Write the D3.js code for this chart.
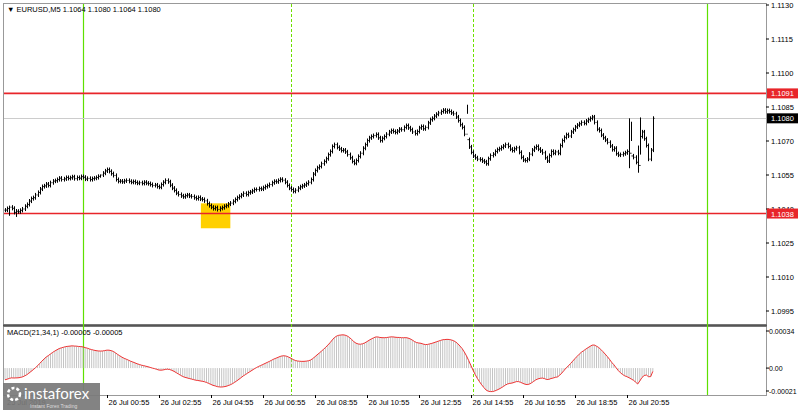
<!DOCTYPE html>
<html><head><meta charset="utf-8">
<script src="https://cdn.jsdelivr.net/npm/d3@7/dist/d3.min.js"></script>
<style>body{margin:0;background:#fff}svg{display:block;font-family:"Liberation Sans",Arial,sans-serif}</style>
</head><body><svg id="c" width="800" height="411"></svg>
<script>
// closes, pips above 1.1000, one per M5 bar starting 25 Jul 21:00
const closes = [
39.5,40.2,40.8,40.3,38.5,39.0,38.8,39.4,40.0,41.2,42.0,43.5,44.6,45.0,46.2,47.3,48.8,49.9,50.2,51.0,50.4,51.6,52.3,52.5,53.0,
53.6,53.0,53.3,53.9,53.5,53.8,54.2,53.4,53.9,53.6,54.3,54.0,53.2,53.5,53.0,53.4,53.6,53.9,54.4,55.0,55.8,56.8,57.4,56.6,55.6,
54.8,53.0,52.2,52.3,52.0,52.4,52.6,52.2,51.8,52.1,51.7,51.4,51.6,51.3,51.8,51.4,51.2,50.8,50.4,50.6,49.9,49.6,50.8,51.8,52.6,
52.0,50.5,49.2,48.2,47.0,46.4,45.8,45.4,45.9,46.2,45.7,45.5,45.0,44.6,45.1,44.4,44.2,43.6,42.4,41.5,40.8,40.2,40.6,39.8,40.3,
40.6,41.2,41.5,42.2,42.6,43.4,44.2,45.0,45.6,46.2,46.9,46.4,47.2,47.5,48.0,48.6,48.6,49.0,48.8,49.4,49.9,50.3,50.8,51.6,52.2,
52.0,52.6,53.1,52.7,51.8,50.4,49.2,48.6,47.8,48.3,49.2,49.8,50.2,50.6,51.2,51.8,53.0,55.4,57.0,58.2,58.8,60.0,61.0,62.2,64.0,
65.4,67.6,68.4,67.2,66.5,65.8,66.0,65.2,64.0,62.6,61.0,60.2,61.4,63.2,64.6,66.8,68.4,70.2,71.4,72.0,72.4,72.9,71.4,70.2,71.2,
72.0,73.0,74.0,74.6,74.2,73.8,74.4,75.2,75.0,76.0,76.8,75.8,75.0,74.0,73.3,74.2,75.8,76.4,75.4,76.0,78.0,79.4,80.0,81.0,81.8,
82.4,83.0,83.6,82.9,83.4,83.0,82.4,82.0,80.6,79.0,77.2,76.0,73.0,70.6,67.4,65.0,63.4,62.6,62.0,61.8,61.2,60.8,60.0,62.2,63.6,
64.2,65.4,66.2,66.6,67.2,67.8,68.4,67.6,66.4,65.8,66.6,67.0,65.0,62.8,61.6,61.4,62.0,64.2,66.0,67.0,67.6,66.4,65.6,64.8,62.6,
61.2,63.6,65.4,64.6,65.2,64.6,68.0,70.2,71.6,72.8,72.2,74.0,75.0,76.2,77.0,77.6,78.2,77.8,78.8,79.4,80.0,80.6,78.2,75.2,74.6,
72.6,71.4,70.4,69.4,67.8,66.2,66.8,64.4,63.8,64.0,64.4,64.8,65.4,64.6,63.4,62.8,60.6,59.2,72.0,74.0,71.0,68.0,62.0,66.0,80.0
];
// notable wicks: [bar index, high, low] in pips
const wicks = [[288,80.0,58.0],[289,78.5,70.0],[292,68.0,56.0],[293,80.4,64.0],[44,55.2,53.8],[2,41.5,37.0],[5,40.0,36.5],[213,86.0,82.0]];
const priceTicks = [1.1130,1.1115,1.1100,1.1085,1.1070,1.1055,1.1040,1.1025,1.1010,1.0995];
const levels = [1.1091,1.1038];
const lastPrice = 1.1080;
const timeTicks = ["00:55","02:55","04:55","06:55","08:55","10:55","12:55","14:55","16:55","18:55","20:55"];
const solidDays = ["2019-07-26T00:00","2019-07-27T00:00"];
const dashedTimes = ["2019-07-26T08:00","2019-07-26T15:00"];
const boxTime = ["2019-07-26T04:32","2019-07-26T05:40"], boxPrice = [1.10425,1.10315];
const macdTicks = [0.00034,0,-0.00021];

const svg = d3.select('#c');
const t0 = new Date("2019-07-25T21:00");
const bars = closes.map((c, i) => {
  const o = i ? closes[i-1] : c;
  const w = wicks.find(d => d[0] === i);
  return { t: new Date(+t0 + i*300000), o, c,
    h: w ? w[1] : Math.max(o, c) + 0.9, l: w ? w[2] : Math.min(o, c) - 0.9 };
});
const x = d3.scaleTime().domain([t0, new Date("2019-07-27T00:00")]).range([5, 707]);
const y = d3.scaleLinear().domain([1.0995, 1.1130]).range([311, 5]);
const pp = v => 1.1 + v/10000;
const ym = d3.scaleLinear().domain([-0.00021, 0.00034]).range([391, 331]);

// MACD(21,34,1) from closes
let e21 = 40.5, e34 = 41.6;
bars.forEach(b => { e21 += (b.c - e21)*2/22; e34 += (b.c - e34)*2/35; b.m = (e21 - e34)/10000; });

// frames
svg.append('rect').attr('x',3.5).attr('y',3.5).attr('width',763).attr('height',321).attr('fill','none').attr('stroke','#999');
svg.append('rect').attr('x',3.5).attr('y',326.5).attr('width',763).attr('height',69).attr('fill','none').attr('stroke','#999');
svg.append('line').attr('x1',3).attr('x2',767).attr('y1',325.5).attr('y2',325.5).attr('stroke','#555').attr('stroke-width',2);

// time markers
solidDays.forEach(d => svg.append('line').attr('x1',Math.round(x(new Date(d)))+.5).attr('x2',Math.round(x(new Date(d)))+.5)
  .attr('y1',4).attr('y2',395).attr('stroke','#5ee000').attr('stroke-width',1.2));
dashedTimes.forEach(d => svg.append('line').attr('x1',Math.round(x(new Date(d)))+.5).attr('x2',Math.round(x(new Date(d)))+.5)
  .attr('y1',4).attr('y2',395).attr('stroke','#6fe000').attr('stroke-dasharray','3,2'));

// highlight box
svg.append('rect').attr('x',x(new Date(boxTime[0]))).attr('width',x(new Date(boxTime[1]))-x(new Date(boxTime[0])))
  .attr('y',y(boxPrice[0])).attr('height',y(boxPrice[1])-y(boxPrice[0])).attr('fill','#ffd000');

// last price line
svg.append('line').attr('x1',4).attr('x2',766).attr('y1',Math.round(y(lastPrice))+.5).attr('y2',Math.round(y(lastPrice))+.5).attr('stroke','#ccc');

// levels
levels.forEach(v => svg.append('line').attr('x1',4).attr('x2',766).attr('y1',y(v)).attr('y2',y(v)).attr('stroke','#e8252a').attr('stroke-width',1.6));

// OHLC bars
const g = svg.append('g').attr('stroke','#000').attr('stroke-width',1).attr('fill','none');
bars.forEach(b => {
  const bx = Math.round(x(b.t)) + .5;
  g.append('line').attr('x1',bx).attr('x2',bx).attr('y1',y(pp(b.h))).attr('y2',y(pp(b.l)));
  g.append('line').attr('x1',bx-1).attr('x2',bx).attr('y1',y(pp(b.o))).attr('y2',y(pp(b.o)));
  g.append('line').attr('x1',bx).attr('x2',bx+1).attr('y1',y(pp(b.c))).attr('y2',y(pp(b.c)));
});

// MACD histogram + signal
const gm = svg.append('g').attr('stroke','#b5b5b5').attr('stroke-width',0.8);
bars.forEach(b => gm.append('line').attr('x1',x(b.t)).attr('x2',x(b.t)).attr('y1',ym(0)).attr('y2',ym(b.m)));
svg.append('path').datum(bars).attr('fill','none').attr('stroke','#e33').attr('stroke-width',1)
  .attr('d', d3.line().x(b => x(b.t)).y(b => ym(b.m)));

// right price axis
const ax = svg.append('g').attr('font-size',7.5).attr('fill','#000');
priceTicks.forEach(v => {
  ax.append('line').attr('x1',766).attr('x2',769).attr('y1',y(v)).attr('y2',y(v)).attr('stroke','#000');
  ax.append('text').attr('x',771).attr('y',y(v)+3).text(v.toFixed(4));
});
levels.forEach(v => {
  ax.append('rect').attr('x',767).attr('y',y(v)-5).attr('width',31).attr('height',10).attr('fill','#e8252a');
  ax.append('text').attr('x',771).attr('y',y(v)+3).attr('fill','#fff').text(v.toFixed(4));
});
ax.append('rect').attr('x',767).attr('y',y(lastPrice)-5).attr('width',31).attr('height',10).attr('fill','#000');
ax.append('text').attr('x',771).attr('y',y(lastPrice)+3).attr('fill','#fff').text(lastPrice.toFixed(4));
macdTicks.forEach(v => {
  ax.append('line').attr('x1',766).attr('x2',769).attr('y1',ym(v)).attr('y2',ym(v)).attr('stroke','#000');
  ax.append('text').attr('x',769).attr('y',ym(v)+3).attr('font-size',7).text(v === 0 ? '0.00' : v.toFixed(5));
});

// bottom time axis
timeTicks.forEach(s => {
  const tx = Math.round(x(new Date("2019-07-26T" + s))) + .5;
  ax.append('line').attr('x1',tx).attr('x2',tx).attr('y1',395).attr('y2',398).attr('stroke','#000');
  ax.append('text').attr('x',tx+1).attr('y',405).text('26 Jul ' + s);
});
ax.append('text').attr('x',7).attr('y',405).text('25 Jul 2019');

// titles
ax.append('text').attr('x',7).attr('y',12).text('\u25BC EURUSD,M5  1.1064 1.1080 1.1064 1.1080');
ax.append('text').attr('x',7).attr('y',335).text('MACD(21,34,1) -0.00005 -0.00005');

// logo
const lg = svg.append('g');
lg.append('rect').attr('x',3).attr('y',383).attr('width',97).attr('height',27).attr('fill','#7a7a7a').attr('opacity',0.93);
lg.append('circle').attr('cx',14).attr('cy',394).attr('r',6).attr('fill','none').attr('stroke','#fff').attr('stroke-width',2.5).attr('stroke-dasharray','3,2');
lg.append('text').attr('x',24).attr('y',399).attr('fill','#fff').attr('font-size',15).attr('font-family','Lato,sans-serif').text('instaforex');
lg.append('text').attr('x',30).attr('y',408).attr('fill','#ddd').attr('font-size',5).text('Instant Forex Trading');
</script></body></html>
